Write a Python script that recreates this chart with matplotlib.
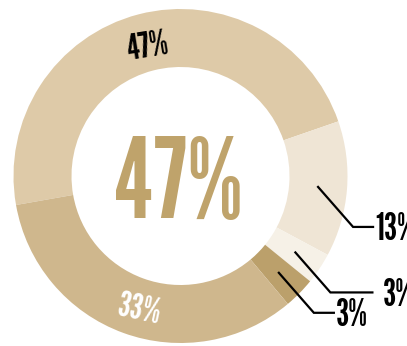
import numpy as np
import matplotlib
matplotlib.use('Agg')
import matplotlib.pyplot as plt

plt.rcParams['font.family'] = ['League Gothic', 'Bebas Neue', 'DejaVu Sans']

# segment shares, clockwise from the top-left
shares = [47, 13, 3, 3, 33]
labels = ['47%', '13%', '3%', '3%', '33%']
colors = ['#DECAA8', '#EFE5D5', '#F6F1E7', '#BBA06B', '#CFB78D']
headline = '47%'

W, H = 407, 346
cx, cy = 180.5, H - 176
r_out, ring = 167, 58

fig = plt.figure(figsize=(W / 100, H / 100), dpi=100)
ax = fig.add_axes([0, 0, 1, 1])
ax.axis('off')

wedges, _ = ax.pie(shares, colors=colors, startangle=190, counterclock=False,
                   radius=r_out, center=(cx, cy),
                   wedgeprops=dict(width=ring, linewidth=0))
ax.set_xlim(0, W)
ax.set_ylim(0, H)

# big number in the hole
ax.text(cx - 2.5, cy - 12, headline, ha='center', va='center',
        fontsize=80, color='#BFA36B')

r_mid = r_out - ring / 2

# labels placed on the ring
ax.text(148, H - 47, labels[0], ha='center', va='center', fontsize=26,
        color='black', rotation=9)
ax.text(139, H - 310, labels[4], ha='center', va='center', fontsize=26,
        color='white', rotation=-12, style='italic')

# leader lines for the small segments on the right
tails = {1: 20, 2: 42, 3: 20}
for i, tail in tails.items():
    w = wedges[i]
    mid = np.deg2rad((w.theta1 + w.theta2) / 2)
    x0, y0 = cx + r_mid * np.cos(mid), cy + r_mid * np.sin(mid)
    x1, y1 = x0 + 35, y0 - 40
    x2 = x1 + tail
    ax.plot([x0, x1, x2], [y0, y1, y1], color='black', lw=1.6,
            solid_joinstyle='miter')
    ax.text(x2 + 2 + (8 if i == 2 else 0), y1 - 3, labels[i], ha='left',
            va='center', fontsize=27, color='black')

fig.savefig('out.png', dpi=100)
